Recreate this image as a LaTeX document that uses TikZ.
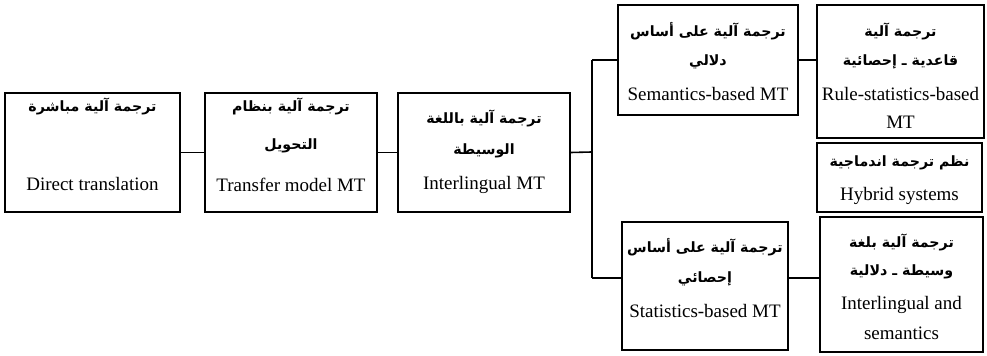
\documentclass[tikz,border=0pt]{standalone}
\usepackage{fontspec}
\setmainfont{Liberation Serif}
\newfontfamily\arabicfont[Script=Arabic]{DejaVu Sans}
\TeXXeTstate=1
\newcommand{\ar}[1]{{\arabicfont\bfseries\fontsize{7.1}{9}\selectfont\beginR #1\endR}}
\newcommand{\en}[1]{{\fontsize{9.5}{11}\selectfont #1}}
\begin{document}
\begin{tikzpicture}[x=0.5pt,y=-0.5pt,
  box/.style={draw=black,line width=1pt,rectangle,inner sep=0pt},
  txt/.style={inner sep=0pt,anchor=center},
  link/.style={draw=black,line width=0.8pt},
  thick link/.style={draw=black,line width=1.4pt}]
\useasboundingbox[fill=white] (0,0) rectangle (987,356);

% boxes (centre, width, height in px)
\node[box,minimum width=175pt*0.5,minimum height=119pt*0.5] (b1) at (92.5,152.5) {};
\node[box,minimum width=172pt*0.5,minimum height=119pt*0.5] (b2) at (291,152.5) {};
\node[box,minimum width=172pt*0.5,minimum height=119pt*0.5] (b3) at (484,152.5) {};
\node[box,minimum width=180pt*0.5,minimum height=110pt*0.5] (sem) at (708,60) {};
\node[box,minimum width=167pt*0.5,minimum height=133pt*0.5] (rule) at (900.5,71.5) {};
\node[box,minimum width=165pt*0.5,minimum height=69pt*0.5] (hyb) at (899.5,177.5) {};
\node[box,minimum width=166pt*0.5,minimum height=128pt*0.5] (stat) at (705,286) {};
\node[box,minimum width=163pt*0.5,minimum height=135pt*0.5] (ils) at (901.5,284.5) {};

% texts
\node[txt] (b1a) at (92.5,106) {\ar{ترجمة آلية مباشرة}};
\node[txt] (b1e) at (92.5,184) {\en{Direct translation}};

\node[txt] (b2a) at (291,106) {\ar{ترجمة آلية بنظام}};
\node[txt] (b2b) at (291,146) {\ar{التحويل}};
\node[txt] (b2e) at (291,185) {\en{Transfer model MT}};

\node[txt] (b3a) at (484,118) {\ar{ترجمة آلية باللغة}};
\node[txt] (b3b) at (484,151) {\ar{الوسيطة}};
\node[txt] (b3e) at (484,185) {\en{Interlingual MT}};

\node[txt] (sema) at (708,31) {\ar{ترجمة آلية على أساس}};
\node[txt] (semb) at (708,62) {\ar{دلالي}};
\node[txt] (seme) at (708,94) {\en{Semantics-based MT}};

\node[txt] (rulea) at (900.5,31) {\ar{ترجمة آلية}};
\node[txt] (ruleb) at (900.5,62) {\ar{قاعدية ـ إحصائية}};
\node[txt] (rulee) at (900.5,94) {\en{Rule-statistics-based}};
\node[txt] (rulef) at (900.5,122) {\en{MT}};

\node[txt] (hyba) at (899.5,163) {\ar{نظم ترجمة اندماجية}};
\node[txt] (hybe) at (899.5,196) {\en{Hybrid systems}};

\node[txt] (stata) at (705,247) {\ar{ترجمة آلية على أساس}};
\node[txt] (statb) at (705,279) {\ar{إحصائي}};
\node[txt] (state) at (705,311) {\en{Statistics-based MT}};

\node[txt] (ilsa) at (901.5,242) {\ar{ترجمة آلية بلغة}};
\node[txt] (ilsb) at (901.5,272) {\ar{وسيطة ـ دلالية}};
\node[txt] (ilse) at (901.5,305) {\en{Interlingual and}};
\node[txt] (ilsf) at (901.5,333) {\en{semantics}};

% junction points of the branching connector
\coordinate (jt) at (592,60);
\coordinate (jm) at (592,152);
\coordinate (jb) at (592,278);

% connectors
\draw[link] (b1.east) -- (b2.west);
\draw[link] (b2.east) -- (b3.west);
\draw[link] (b3.east) -- (jm);
\draw[link] (jt) -- (jm);
\draw[thick link] (jm) -- (jb);
\draw[link] (jt) -- (jt -| sem.west);
\draw[thick link] (jb) -- (jb -| stat.west);
\draw[link] (sem.east) -- (sem.east -| rule.west);
\draw[link] (stat.east |- jb) -- (jb -| ils.west);
\end{tikzpicture}
\end{document}
